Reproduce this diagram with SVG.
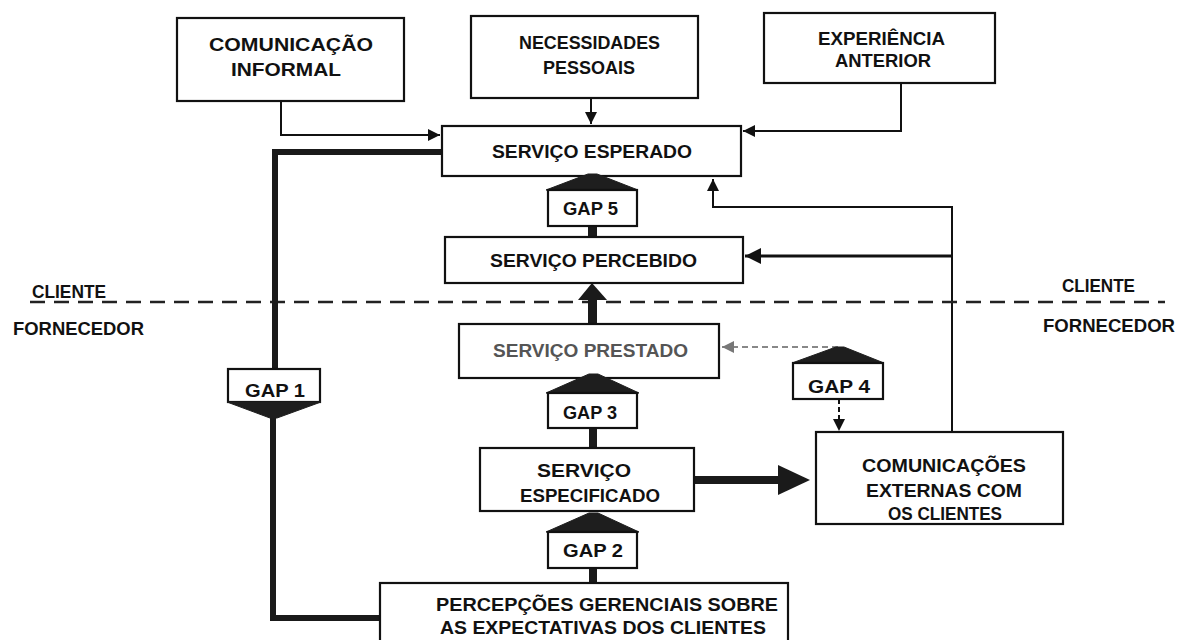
<svg xmlns="http://www.w3.org/2000/svg" width="1181" height="640" viewBox="0 0 1181 640">
<style>
.box{fill:#fff;stroke:#111;stroke-width:2.2}
.t{font-family:"Liberation Sans",Arial,sans-serif;font-weight:bold;font-size:18px;fill:#111}
.g{fill:#555}
.roof{fill:#1e1e1e;stroke:#1e1e1e;stroke-width:1}
.thin{fill:none;stroke:#111;stroke-width:2}
.thick{fill:none;stroke:#1a1a1a;stroke-width:6}
.stem{fill:#1a1a1a}
</style>
<defs>
<marker id="ah" markerWidth="12" markerHeight="12" refX="10" refY="5" orient="auto" markerUnits="userSpaceOnUse" viewBox="0 0 10 10">
<path d="M0,0 L10,5 L0,10 z" fill="#111"/>
</marker>
<marker id="ahg" markerWidth="12" markerHeight="12" refX="10" refY="5" orient="auto" markerUnits="userSpaceOnUse" viewBox="0 0 10 10">
<path d="M0,0 L10,5 L0,10 z" fill="#777"/>
</marker>
<marker id="ahb" markerWidth="16" markerHeight="16" refX="10" refY="5" orient="auto" markerUnits="userSpaceOnUse" viewBox="0 0 10 10">
<path d="M0,0 L10,5 L0,10 z" fill="#111"/>
</marker>
</defs>
<rect width="1181" height="640" fill="#fff"/>

<g id="connectors">
<polyline class="thin" points="281,101 281,135 440,135" marker-end="url(#ah)"/>
<line class="thin" x1="591" y1="98" x2="591" y2="124" marker-end="url(#ah)"/>
<polyline class="thin" points="901,83 901,131 743,131" marker-end="url(#ah)"/>
<polyline class="thin" points="952,432 952,207 713,207 713,179" marker-end="url(#ah)"/>
<line x1="952" y1="256" x2="745" y2="256" stroke="#111" stroke-width="3" marker-end="url(#ahb)"/>
<line x1="30" y1="302" x2="1165" y2="302" stroke="#222" stroke-width="2.5" stroke-dasharray="15 9"/>
<polyline class="thick" points="442,152 275,152 275,370"/>
<polyline class="thick" points="273,416 273,618 380,618"/>
<rect class="stem" x="588" y="226" width="9" height="12"/>
<rect class="stem" x="589" y="428" width="8" height="21"/>
<rect class="stem" x="589" y="568" width="8" height="16"/>
<rect class="stem" x="588" y="296" width="9" height="29"/>
<polygon class="stem" points="578,300 592,283 607,300"/>
<rect class="stem" x="694" y="476" width="86" height="8"/>
<polygon class="stem" points="778,465 810,480 778,495"/>
<line x1="838" y1="347" x2="722" y2="347" stroke="#888" stroke-width="2" stroke-dasharray="6 4" marker-end="url(#ahg)"/>
<line x1="839" y1="399" x2="839" y2="431" stroke="#111" stroke-width="2" stroke-dasharray="5 3" marker-end="url(#ah)"/>
</g>

<g id="comunicacao-informal">
<rect class="box" x="177" y="18" width="227" height="83"/>
<text class="t" x="209" y="51" textLength="164" lengthAdjust="spacingAndGlyphs">COMUNICAÇÃO</text>
<text class="t" x="231" y="76" textLength="110" lengthAdjust="spacingAndGlyphs">INFORMAL</text>
</g>

<g id="necessidades-pessoais">
<rect class="box" x="471" y="16" width="227" height="82"/>
<text class="t" x="519" y="49" textLength="141" lengthAdjust="spacingAndGlyphs">NECESSIDADES</text>
<text class="t" x="543" y="74" textLength="92" lengthAdjust="spacingAndGlyphs">PESSOAIS</text>
</g>

<g id="experiencia-anterior">
<rect class="box" x="764" y="13" width="231" height="70"/>
<text class="t" x="818" y="45" textLength="127" lengthAdjust="spacingAndGlyphs">EXPERIÊNCIA</text>
<text class="t" x="835" y="67" textLength="96" lengthAdjust="spacingAndGlyphs">ANTERIOR</text>
</g>

<g id="servico-esperado">
<rect class="box" x="442" y="126" width="299" height="50"/>
<text class="t" x="492" y="158" textLength="200" lengthAdjust="spacingAndGlyphs">SERVIÇO ESPERADO</text>
</g>

<g id="gap5">
<polygon class="roof" points="546,190 588,174 597,174 638,190"/>
<rect class="box" x="548" y="190" width="89" height="36"/>
<text class="t" x="563" y="215" textLength="55" lengthAdjust="spacingAndGlyphs">GAP 5</text>
</g>

<g id="servico-percebido">
<rect class="box" x="445" y="237" width="298" height="46"/>
<text class="t" x="490" y="267" textLength="207" lengthAdjust="spacingAndGlyphs">SERVIÇO PERCEBIDO</text>
</g>

<g id="cliente-fornecedor">
<text class="t" x="32" y="298" textLength="74" lengthAdjust="spacingAndGlyphs">CLIENTE</text>
<text class="t" x="13" y="335" textLength="131" lengthAdjust="spacingAndGlyphs">FORNECEDOR</text>
<text class="t" x="1062" y="292" textLength="73" lengthAdjust="spacingAndGlyphs">CLIENTE</text>
<text class="t" x="1043" y="332" textLength="132" lengthAdjust="spacingAndGlyphs">FORNECEDOR</text>
</g>

<g id="servico-prestado">
<rect class="box" x="459" y="324" width="260" height="54"/>
<text class="t g" x="493" y="357" textLength="195" lengthAdjust="spacingAndGlyphs">SERVIÇO PRESTADO</text>
</g>

<g id="gap3">
<polygon class="roof" points="546,393 589,374 598,374 639,393"/>
<rect class="box" x="548" y="393" width="89" height="35"/>
<text class="t" x="563" y="419" textLength="54" lengthAdjust="spacingAndGlyphs" fill="#333">GAP 3</text>
</g>

<g id="gap4">
<polygon class="roof" points="792,363 836,347 844,347 884,363"/>
<rect class="box" x="793" y="363" width="90" height="36"/>
<text class="t" x="808" y="393" textLength="62" lengthAdjust="spacingAndGlyphs">GAP 4</text>
</g>

<g id="gap1">
<rect class="box" x="228" y="369" width="92" height="33"/>
<polygon class="roof" points="227,402 321,402 277,418 270,418"/>
<text class="t" x="245" y="397" textLength="60" lengthAdjust="spacingAndGlyphs" fill="#333">GAP 1</text>
</g>

<g id="servico-especificado">
<rect class="box" x="480" y="448" width="214" height="63"/>
<text class="t" x="537" y="477" textLength="94" lengthAdjust="spacingAndGlyphs">SERVIÇO</text>
<text class="t" x="520" y="502" textLength="140" lengthAdjust="spacingAndGlyphs">ESPECIFICADO</text>
</g>

<g id="comunicacoes-externas">
<rect class="box" x="816" y="432" width="247" height="92"/>
<text class="t" x="862" y="472" textLength="164" lengthAdjust="spacingAndGlyphs">COMUNICAÇÕES</text>
<text class="t" x="866" y="497" textLength="156" lengthAdjust="spacingAndGlyphs">EXTERNAS COM</text>
<text class="t" x="888" y="520" textLength="114" lengthAdjust="spacingAndGlyphs">OS CLIENTES</text>
</g>

<g id="gap2">
<polygon class="roof" points="546,532 589,513 598,513 639,532"/>
<rect class="box" x="548" y="532" width="89" height="36"/>
<text class="t" x="563" y="557" textLength="60" lengthAdjust="spacingAndGlyphs">GAP 2</text>
</g>

<g id="percepcoes-gerenciais">
<rect class="box" x="380" y="583" width="408" height="62"/>
<text class="t" x="436" y="611" textLength="342" lengthAdjust="spacingAndGlyphs">PERCEPÇÕES GERENCIAIS SOBRE</text>
<text class="t" x="440" y="634" textLength="326" lengthAdjust="spacingAndGlyphs">AS EXPECTATIVAS DOS CLIENTES</text>
</g>
</svg>
